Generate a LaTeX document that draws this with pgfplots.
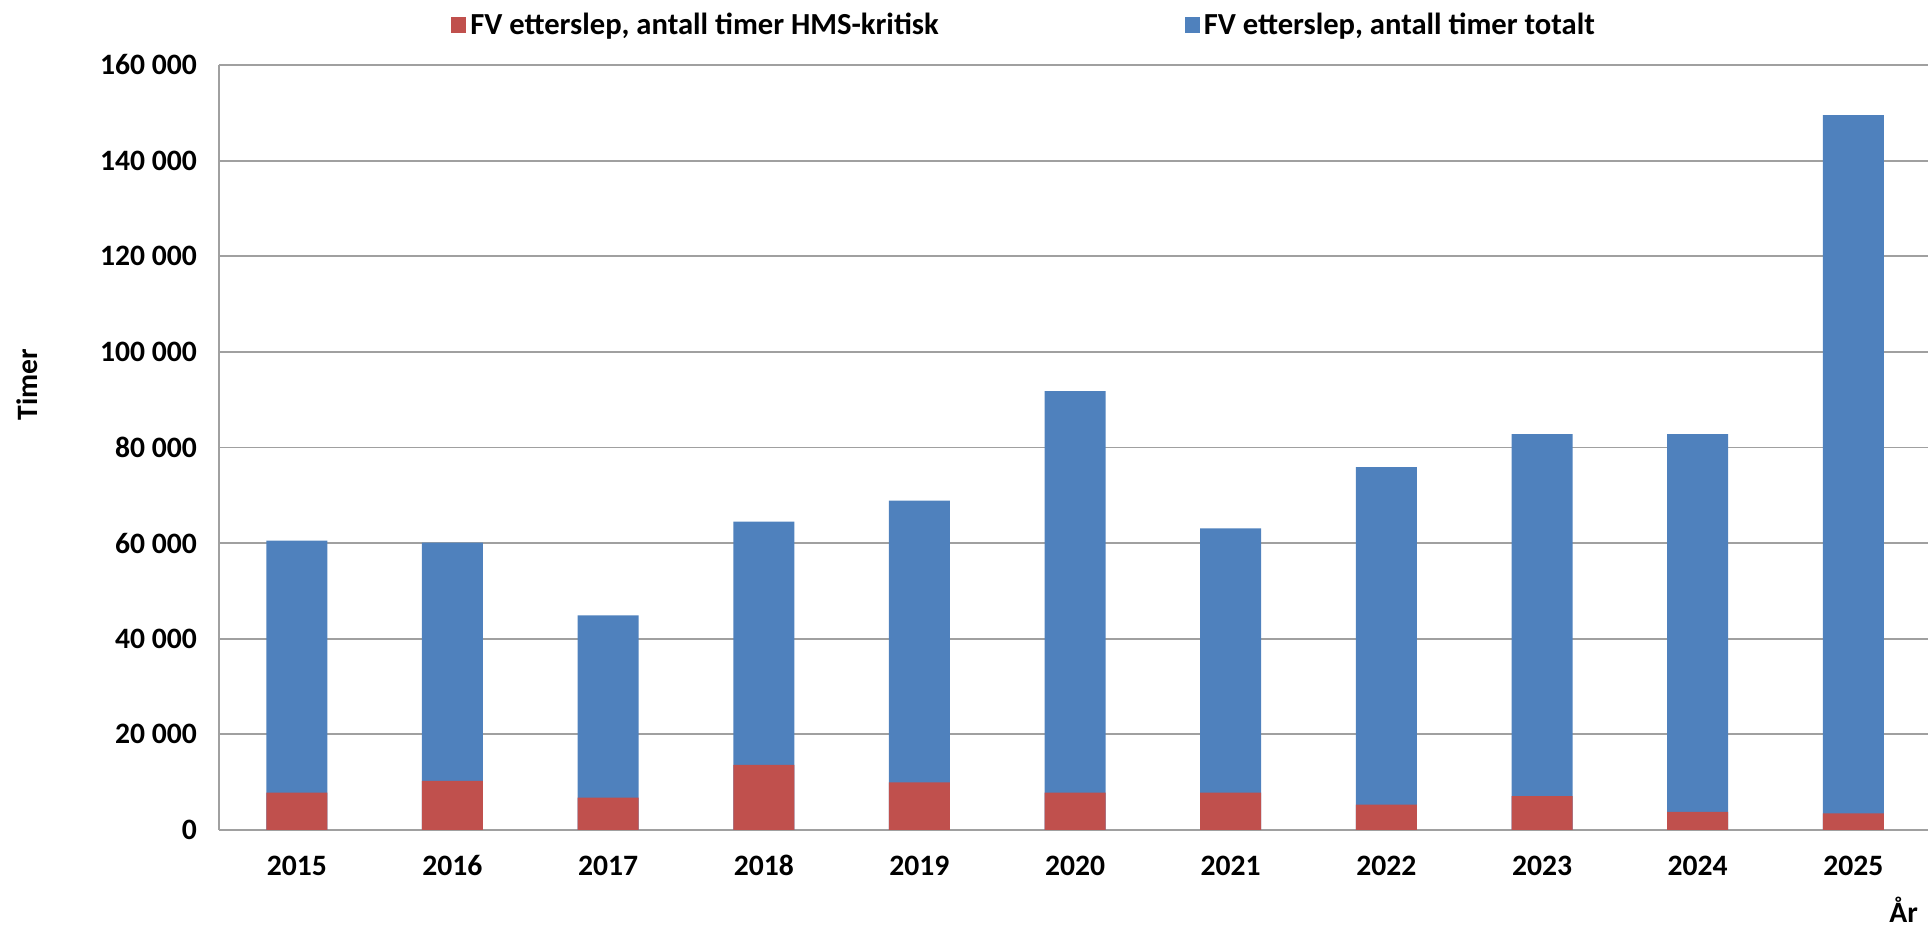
\documentclass[border=0pt]{standalone}
\usepackage{fontspec}
\setmainfont{Carlito}
\usepackage{pgfplots}
\pgfplotsset{compat=1.18}
\definecolor{exblue}{HTML}{4F81BD}
\definecolor{exred}{HTML}{C0504D}
\definecolor{gridgray}{HTML}{A0A0A0}
\newcommand{\cf}{\fontsize{14.8}{16}\selectfont\bfseries}
\newcommand{\lf}{\fontsize{15.3}{17}\selectfont\bfseries}
\begin{document}
\begin{tikzpicture}
\begin{axis}[
  scale only axis, width=854.5pt, height=382.5pt,
  xmin=-0.5, xmax=10.48, ymin=0, ymax=160000,
  clip=false,
  axis lines*=left,
  axis line style={draw=gridgray, line width=0.9pt},
  ymajorgrids, grid style={draw=gridgray, line width=0.9pt},
  xtick={0,...,10},
  xticklabels={2015,2016,2017,2018,2019,2020,2021,2022,2023,2024,2025},
  major tick length=0pt,
  ytick={0,20000,40000,60000,80000,100000,120000,140000,160000},
  scaled y ticks=false,
  yticklabel={\pgfmathprintnumber[fixed,precision=0,assume math mode=true,1000 sep={\ }]{\tick}},
  ticklabel style={font=\cf},
  yticklabel style={xshift=-7.5pt},
  xticklabel style={yshift=-9pt, text height=10pt, text depth=0pt},
  legend columns=2,
  legend image code/.code={\fill[#1] (0pt,-4pt) rectangle (7.5pt,4pt);},
  legend style={draw=none, fill=none, at={(0.4717,1.052)}, anchor=center,
    font=\lf, legend cell align=left,
    /tikz/every even column/.append style={column sep=121pt}},
]
\addlegendimage{fill=exred, draw=none}
\addlegendentry{FV etterslep, antall timer HMS-kritisk}
\addlegendimage{fill=exblue, draw=none}
\addlegendentry{FV etterslep, antall timer totalt}
\addplot[ybar, bar width=30.5pt, bar shift=0pt, fill=exblue, draw=none, forget plot]
  coordinates {(0,60500) (1,60100) (2,44900) (3,64500) (4,68900) (5,91800) (6,63100) (7,75900) (8,82800) (9,82800) (10,149500)};
\addplot[ybar, bar width=30.5pt, bar shift=0pt, fill=exred, draw=none, forget plot]
  coordinates {(0,7800) (1,10300) (2,6750) (3,13600) (4,9950) (5,7800) (6,7800) (7,5300) (8,7100) (9,3800) (10,3500)};
\node[rotate=90, font=\cf] at (rel axis cs:-0.1123,0.582) {Timer};
\node[anchor=base west, font=\cf, inner sep=0pt] at ([xshift=835pt,yshift=-46pt]rel axis cs:0,0) {År};
\end{axis}
\pgfresetboundingbox
\useasboundingbox (-109.5pt,-48pt) rectangle (854.5pt,415pt);
\end{tikzpicture}
\end{document}
